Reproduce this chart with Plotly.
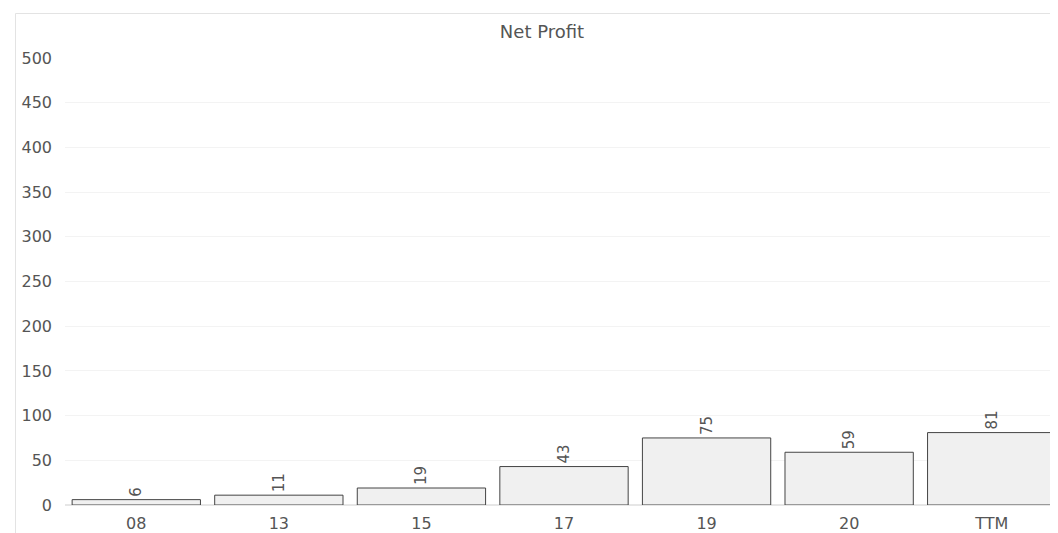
import plotly.graph_objects as go

categories = ["08", "13", "15", "17", "19", "20", "TTM"]
values = [6, 11, 19, 43, 75, 59, 81]
y_ticks = [0, 50, 100, 150, 200, 250, 300, 350, 400, 450, 500]

W, H = 1058, 533
ml, mr, mt, mb = 57, 3, 50, 36

fig = go.Figure(go.Bar(
    x=categories, y=values,
    text=[str(v) for v in values],
    textposition="outside", textangle=-90,
    textfont=dict(color="#555555", size=15),
    marker=dict(color="#f0f0f0", line=dict(color="#444444", width=1)),
    cliponaxis=False,
))

pw = W - ml - mr
ph = H - mt - mb
fig.add_shape(type="rect", xref="paper", yref="paper",
              x0=(7.5 - ml) / pw, x1=(1057.5 - ml) / pw,
              y0=-(531.5 - mt - ph) / ph, y1=1 + (mt - 5.5) / ph,
              line=dict(color="#e3e3e3", width=1), layer="below")

fig.update_layout(
    width=W, height=H,
    margin=dict(l=ml, r=mr, t=mt, b=mb),
    paper_bgcolor="white", plot_bgcolor="white",
    font=dict(family="DejaVu Sans, Verdana, sans-serif", color="#555555", size=16),
    title=dict(text="Net Profit", x=534 / W, xanchor="center", y=1 - 23.5 / H, yanchor="middle",
               font=dict(size=18, color="#555555")),
    bargap=0.1,
    showlegend=False,
    xaxis=dict(showgrid=False, showline=False, ticks="", tickfont=dict(size=16),
               ticklabelstandoff=7),
    yaxis=dict(range=[0, 500], tickvals=y_ticks, showgrid=True, gridcolor="#f3f3f3",
               zeroline=True, zerolinecolor="#e6e6e6", zerolinewidth=2,
               showline=False, ticks="", tickfont=dict(size=16),
               ticklabelstandoff=12),
)

fig.write_html("out.html")
